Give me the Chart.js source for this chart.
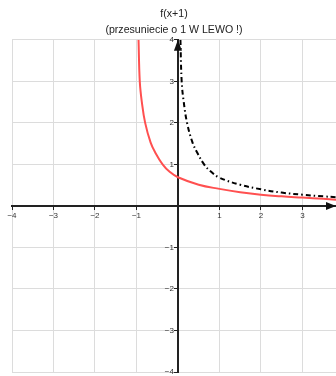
<!DOCTYPE html>
<html lang="en">
    <head>
        <meta charset="UTF-8">
        <title>f(x+1)</title>
        <script src="https://cdn.jsdelivr.net/npm/chart.js"></script>
        <style>
            body, html {
                margin: 0;
                padding: 0;
                background: #fff;
            }
            #chartContainer {
                width: 336px;
                height: 376px;
            }
        </style>
    </head>
    <body>
        <div id="chartContainer">
            <canvas id="shiftChart"></canvas>
        </div>

        <script>
            // values
            const titleLines = ['f(x+1)', '(przesuniecie o 1 W LEWO !)'];
            const xRange = [-4, 3.81];
            const yRange = [-4, 4];

            // f(x+1) - red, shifted curve
            const shiftedX = [-0.95, -0.92, -0.87, -0.79, -0.66, -0.55, -0.37, -0.2, 0, 0.5, 1, 1.5, 2, 2.5, 3, 3.5, 3.81];
            const shiftedY = [4, 3, 2.5, 2, 1.53, 1.29, 1, 0.82, 0.69, 0.51, 0.41, 0.33, 0.27, 0.23, 0.2, 0.17, 0.15];

            // f(x) - black dash-dot, original curve
            const originalX = [0.06, 0.09, 0.14, 0.22, 0.35, 0.46, 0.63, 0.8, 1, 1.5, 2, 2.5, 3, 3.5, 3.81];
            const originalY = [4, 3, 2.5, 2, 1.53, 1.29, 1, 0.82, 0.68, 0.51, 0.4, 0.32, 0.27, 0.23, 0.21];

            const toPoints = (xs, ys) => xs.map((x, i) => ({ x: x, y: ys[i] }));

            const minusLabel = v => {
                if (v === 0) return '';
                return v < 0 ? '\u2212' + Math.abs(v) : String(v);
            };

            const tickFont = { family: "'Liberation Sans', Arial, sans-serif", size: 8 };

            // arrowheads at the end of both axes + y labels beside the centre axis
            const axisDecor = {
                id: 'axisDecor',
                afterDraw(chart) {
                    const { ctx, scales: { x, y } } = chart;
                    const ox = x.getPixelForValue(0);
                    const oy = y.getPixelForValue(0);
                    const xEnd = x.getPixelForValue(xRange[1]);
                    const yEnd = y.getPixelForValue(yRange[1]);
                    ctx.save();
                    ctx.fillStyle = '#111';
                    ctx.beginPath();
                    ctx.moveTo(xEnd, oy);
                    ctx.lineTo(xEnd - 10, oy - 4);
                    ctx.lineTo(xEnd - 10, oy + 4);
                    ctx.closePath();
                    ctx.fill();
                    ctx.beginPath();
                    ctx.moveTo(ox, yEnd);
                    ctx.lineTo(ox - 4, yEnd + 11);
                    ctx.lineTo(ox + 4, yEnd + 11);
                    ctx.closePath();
                    ctx.fill();

                    ctx.fillStyle = '#333';
                    ctx.font = tickFont.size + 'px ' + tickFont.family;
                    ctx.textAlign = 'right';
                    ctx.textBaseline = 'middle';
                    y.ticks.forEach(t => {
                        const label = minusLabel(t.value);
                        if (label) ctx.fillText(label, ox - 4, y.getPixelForValue(t.value));
                    });
                    ctx.restore();
                }
            };

            const integerTicks = axis => {
                axis.ticks = axis.ticks.filter(t => Number.isInteger(t.value));
            };

            new Chart(document.getElementById('shiftChart'), {
                type: 'scatter',
                data: {
                    datasets: [
                        {
                            label: 'f(x+1)',
                            data: toPoints(shiftedX, shiftedY),
                            showLine: true,
                            borderColor: '#ff5050',
                            borderWidth: 2,
                            pointRadius: 0,
                            tension: 0.4
                        },
                        {
                            label: 'f(x)',
                            data: toPoints(originalX, originalY),
                            showLine: true,
                            borderColor: '#000',
                            borderWidth: 2,
                            borderDash: [5, 3, 1.5, 3],
                            pointRadius: 0,
                            tension: 0.4
                        }
                    ]
                },
                options: {
                    responsive: true,
                    maintainAspectRatio: false,
                    animation: false,
                    layout: {
                        padding: { left: 12, right: 0, top: 0, bottom: 4 }
                    },
                    plugins: {
                        legend: { display: false },
                        tooltip: { enabled: false },
                        title: {
                            display: true,
                            text: titleLines,
                            color: '#222',
                            font: { family: "'Liberation Sans', Arial, sans-serif", size: 10.6, weight: 'normal', lineHeight: 1.5 },
                            padding: { top: 6, bottom: 2 }
                        }
                    },
                    scales: {
                        x: {
                            type: 'linear',
                            position: { y: 0 },
                            min: xRange[0],
                            max: xRange[1],
                            afterBuildTicks: integerTicks,
                            grid: { color: '#dcdcdc', tickColor: '#222', tickLength: 3 },
                            border: { color: '#222', width: 2 },
                            ticks: {
                                stepSize: 1,
                                padding: 2,
                                color: '#333',
                                font: tickFont,
                                maxRotation: 0,
                                callback: minusLabel
                            }
                        },
                        y: {
                            type: 'linear',
                            position: { x: 0 },
                            min: yRange[0],
                            max: yRange[1],
                            afterBuildTicks: integerTicks,
                            grid: { color: '#dcdcdc', tickColor: '#222', tickLength: 3 },
                            border: { color: '#222', width: 2 },
                            ticks: { stepSize: 1, display: false }
                        }
                    }
                },
                plugins: [axisDecor]
            });
        </script>
    </body>
</html>
